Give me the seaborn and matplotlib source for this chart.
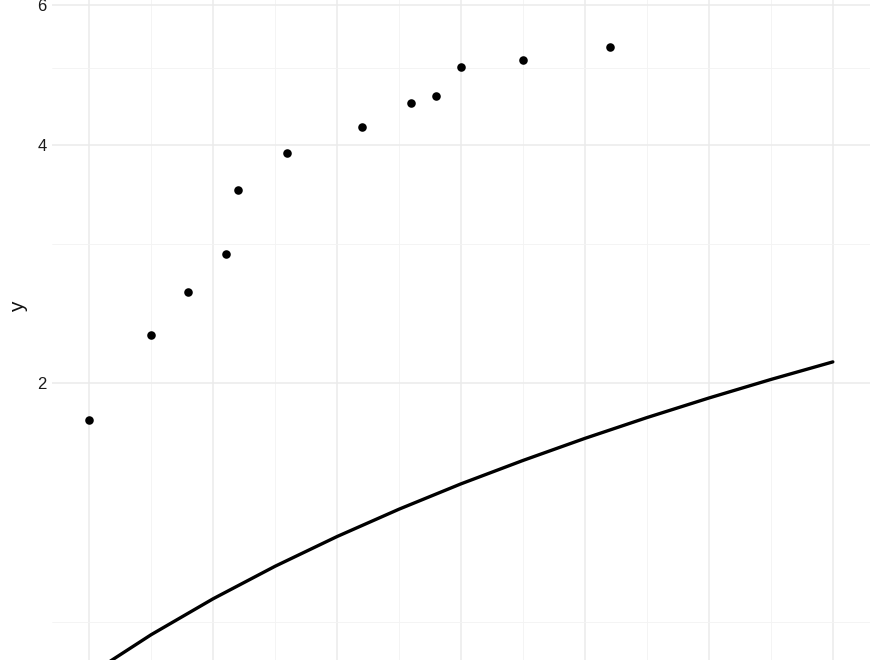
import numpy as np
import pandas as pd
import matplotlib
matplotlib.use("Agg")
import matplotlib.pyplot as plt
from matplotlib.ticker import FixedLocator, FixedFormatter, NullFormatter
import seaborn as sns

# observed points
x_pts = [0, 0.5, 0.8, 1.1, 1.2, 1.6, 2.2, 2.6, 2.8, 3.0, 3.5, 4.2]
y_pts = [1.80, 2.30, 2.61, 2.91, 3.51, 3.91, 4.21, 4.51, 4.61, 5.01, 5.11, 5.31]

x_line = [0, 0.5, 1, 1.5, 2, 2.5, 3, 3.5, 4, 4.5, 5, 5.5, 6]
y_line = [0.858, 0.964, 1.070, 1.176, 1.282, 1.388, 1.494,
          1.599, 1.705, 1.811, 1.917, 2.023, 2.129]

y_major = [2, 4, 6]
y_minor = [1, 3, 5, 7]
x_major = [0, 1, 2, 3, 4, 5, 6]
x_minor = [0.5, 1.5, 2.5, 3.5, 4.5, 5.5]

pts = pd.DataFrame({"x": x_pts, "y": y_pts})
fit = pd.DataFrame({"x": x_line, "y": y_line})

sns.set_style("white")
plt.rcParams["font.family"] = ["Liberation Sans", "DejaVu Sans"]

fig = plt.figure(figsize=(8.8, 6.6), dpi=100)
# panel runs past the bottom and top of the picture (cropped view)
ax = fig.add_axes([52 / 880, 1 - 674 / 660, 818 / 880, 734 / 660])

ax.set_yscale("log")
ax.set_xlim(-0.3, 6.3)
ax.set_ylim(0.86, 7.25)

ax.yaxis.set_major_locator(FixedLocator(y_major))
ax.yaxis.set_major_formatter(FixedFormatter([str(v) for v in y_major]))
ax.yaxis.set_minor_locator(FixedLocator(y_minor))
ax.yaxis.set_minor_formatter(NullFormatter())
ax.xaxis.set_major_locator(FixedLocator(x_major))
ax.xaxis.set_minor_locator(FixedLocator(x_minor))

ax.grid(which="major", color="#EBEBEB", linewidth=1.1)
ax.grid(which="minor", color="#F3F3F3", linewidth=0.6)
ax.set_axisbelow(True)

sns.lineplot(data=fit, x="x", y="y", ax=ax, color="black", linewidth=2.4,
             estimator=None, sort=False)
sns.scatterplot(data=pts, x="x", y="y", ax=ax, color="black", s=38,
                linewidth=0, zorder=3)

for s in ax.spines.values():
    s.set_visible(False)
ax.tick_params(which="both", length=0)
ax.tick_params(axis="y", labelsize=12, labelcolor="#1A1A1A", pad=4)
# x tick labels and title sit just below the cropped view
ax.tick_params(axis="x", labelsize=12, labelcolor="#1A1A1A", pad=4)

ax.set_xlabel("x", fontsize=15, color="#111111")
ax.set_ylabel("y", fontsize=15, color="#111111")
ax.yaxis.set_label_coords((28 - 52) / 818, 0.5)

fig.savefig("out.png", dpi=100)
